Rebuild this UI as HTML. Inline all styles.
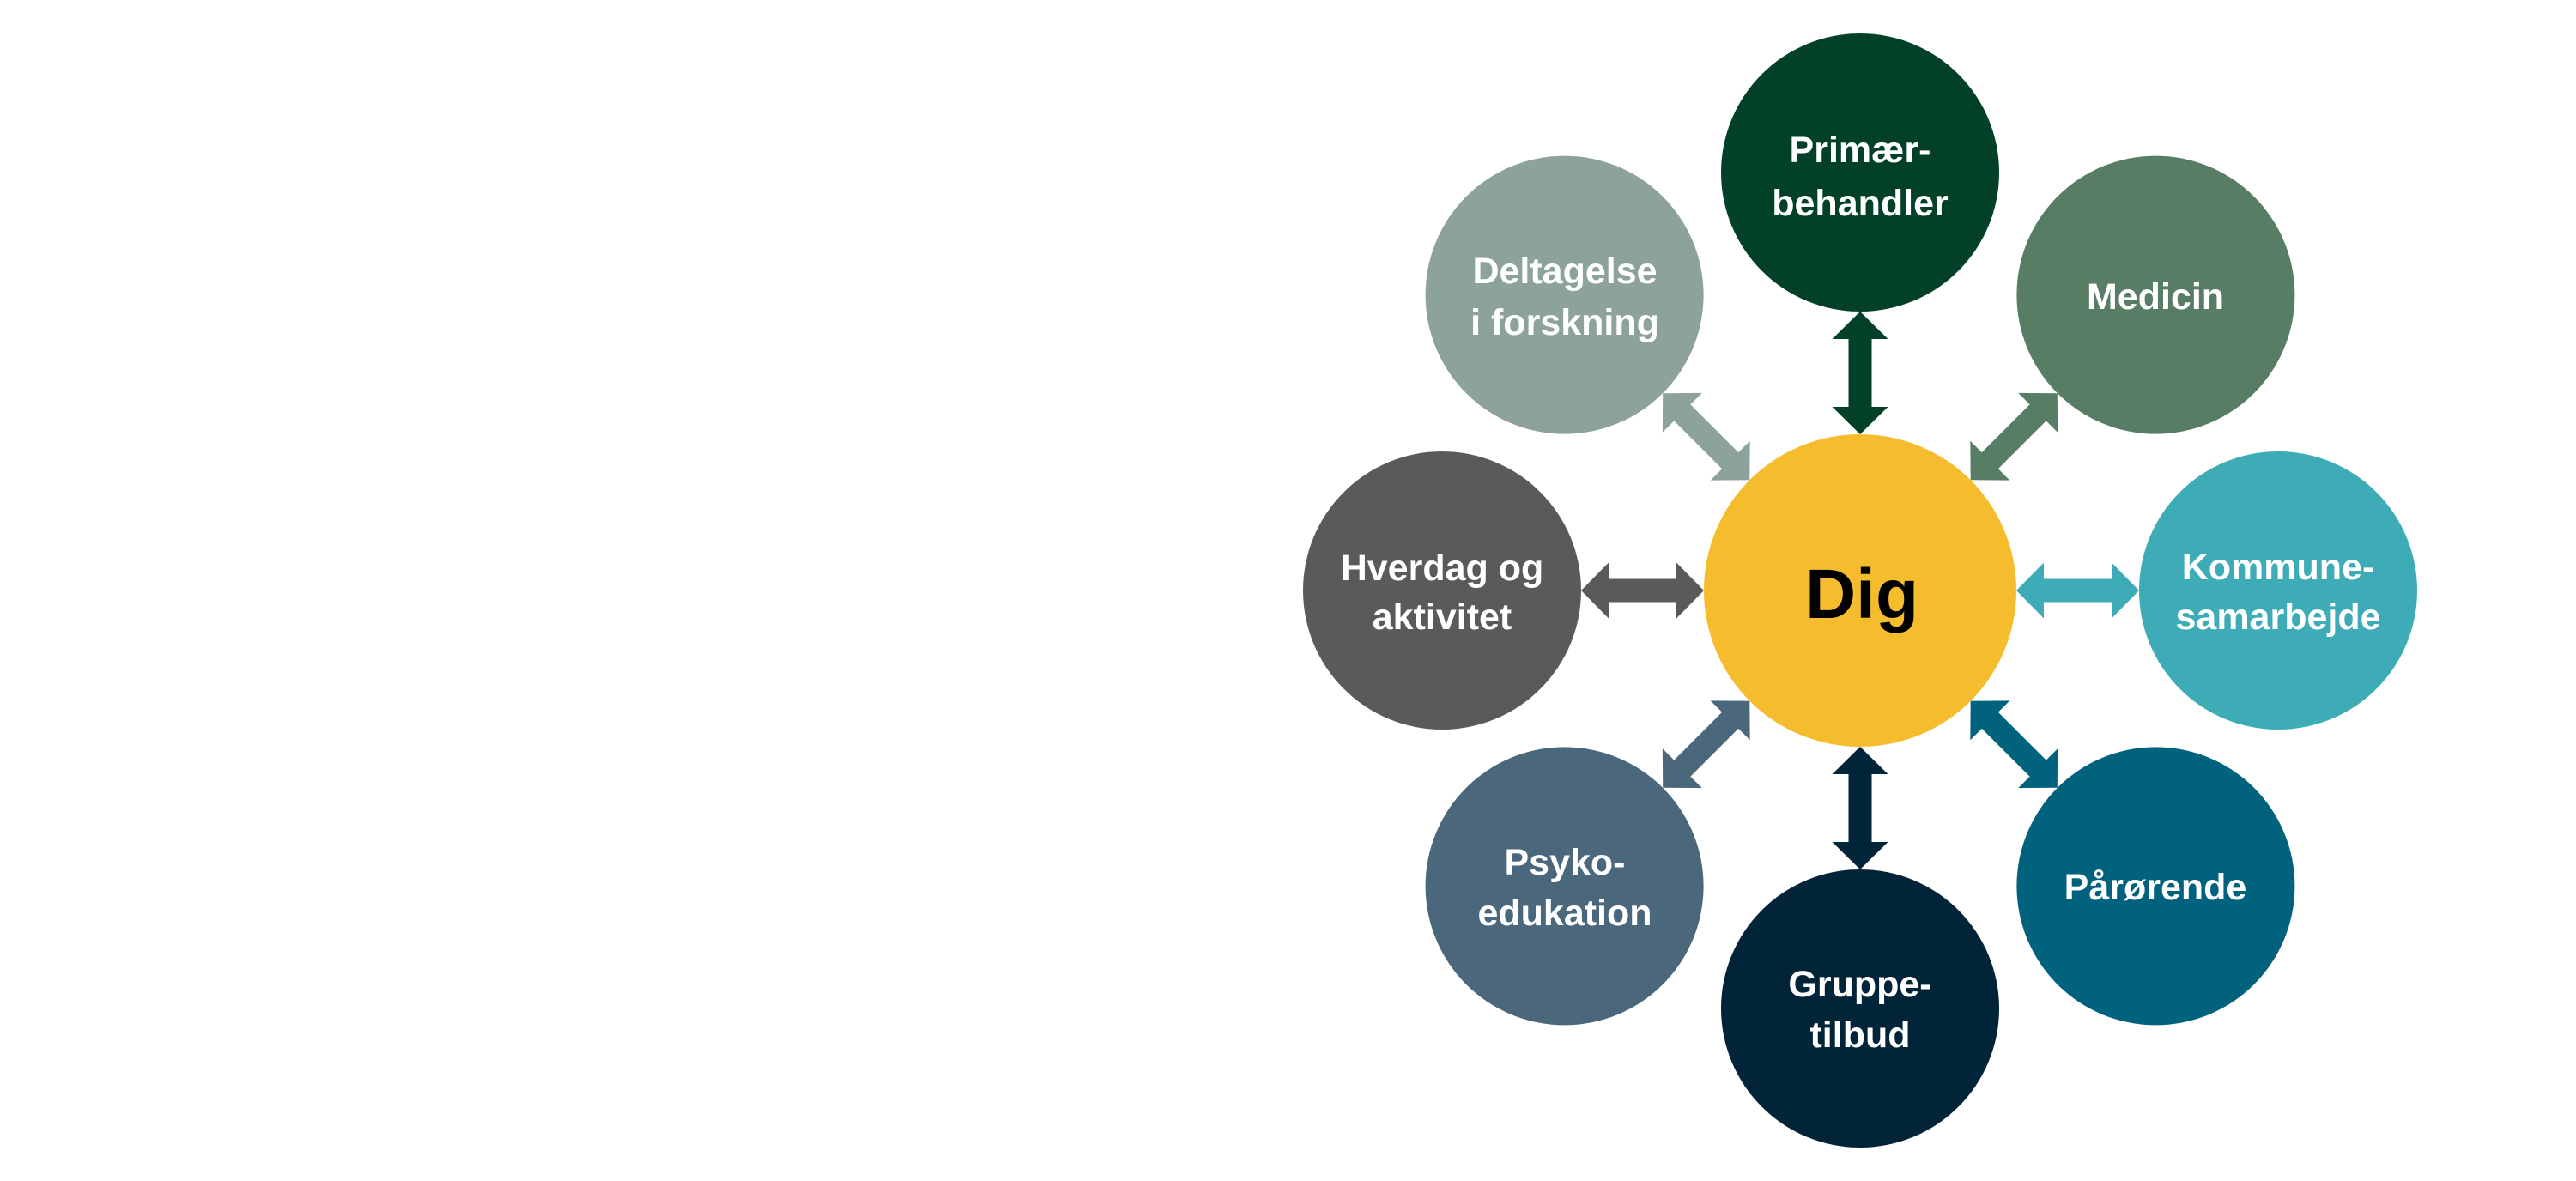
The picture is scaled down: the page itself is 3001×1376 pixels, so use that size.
<!DOCTYPE html>
<html>
<head>
<meta charset="utf-8">
<style>
  html, body { margin: 0; padding: 0; background: #ffffff; }
  body { width: 3001px; height: 1376px; overflow: hidden; }
  svg { display: block; }
  .t { font-family: "Liberation Sans", "DejaVu Sans", sans-serif; font-weight: bold; font-size: 43px; fill: #ffffff; text-anchor: middle; }
  .dig { font-family: "Liberation Sans", "DejaVu Sans", sans-serif; font-weight: bold; font-size: 82px; fill: #000000; text-anchor: middle; }
</style>
</head>
<body>
<svg width="3001" height="1376" viewBox="0 0 3001 1376" xmlns="http://www.w3.org/2000/svg">
  <defs>
    <polygon id="arr" points="0,0 32,-32.5 32,-13.5 111,-13.5 111,-32.5 143,0 111,32.5 111,13.5 32,13.5 32,32.5"/>
  </defs>
  <rect x="0" y="0" width="3001" height="1376" fill="#ffffff"/>

  <!-- outer circles -->
  <circle cx="2167" cy="201" r="162" fill="#024127"/>
  <circle cx="2511.4" cy="343.6" r="162" fill="#587D65"/>
  <circle cx="2654" cy="688" r="162" fill="#3DACB6"/>
  <circle cx="2511.4" cy="1032.4" r="162" fill="#00627C"/>
  <circle cx="2167" cy="1175" r="162" fill="#012439"/>
  <circle cx="1822.6" cy="1032.4" r="162" fill="#4A677C"/>
  <circle cx="1680" cy="688" r="162" fill="#5A5A58"/>
  <circle cx="1822.6" cy="343.6" r="162" fill="#8DA19D"/>

  <!-- center -->
  <circle cx="2167" cy="688" r="182" fill="#F5BD2E"/>

  <!-- arrows -->
  <g transform="translate(2167,688)">
    <use href="#arr" transform="rotate(-90) translate(182,0)" fill="#024127"/>
    <use href="#arr" transform="rotate(-45) translate(182,0)" fill="#587D65"/>
    <use href="#arr" transform="rotate(0) translate(182,0)" fill="#3DACB6"/>
    <use href="#arr" transform="rotate(45) translate(182,0)" fill="#00627C"/>
    <use href="#arr" transform="rotate(90) translate(182,0)" fill="#012439"/>
    <use href="#arr" transform="rotate(135) translate(182,0)" fill="#4A677C"/>
    <use href="#arr" transform="rotate(180) translate(182,0)" fill="#5A5A58"/>
    <use href="#arr" transform="rotate(-135) translate(182,0)" fill="#8DA19D"/>
  </g>

  <!-- labels -->
  <text class="dig" x="2169" y="720">Dig</text>

  <text class="t" x="2167" y="189">Primær-</text>
  <text class="t" x="2167" y="251">behandler</text>

  <text class="t" x="2511" y="360">Medicin</text>

  <text class="t" x="2654" y="675">Kommune-</text>
  <text class="t" x="2654" y="733">samarbejde</text>

  <text class="t" x="2511" y="1048">Pårørende</text>

  <text class="t" x="2167" y="1161">Gruppe-</text>
  <text class="t" x="2167" y="1220">tilbud</text>

  <text class="t" x="1823" y="1019">Psyko-</text>
  <text class="t" x="1823" y="1078">edukation</text>

  <text class="t" x="1680" y="676">Hverdag og</text>
  <text class="t" x="1680" y="733">aktivitet</text>

  <text class="t" x="1823" y="330">Deltagelse</text>
  <text class="t" x="1823" y="390">i forskning</text>
</svg>
</body>
</html>
